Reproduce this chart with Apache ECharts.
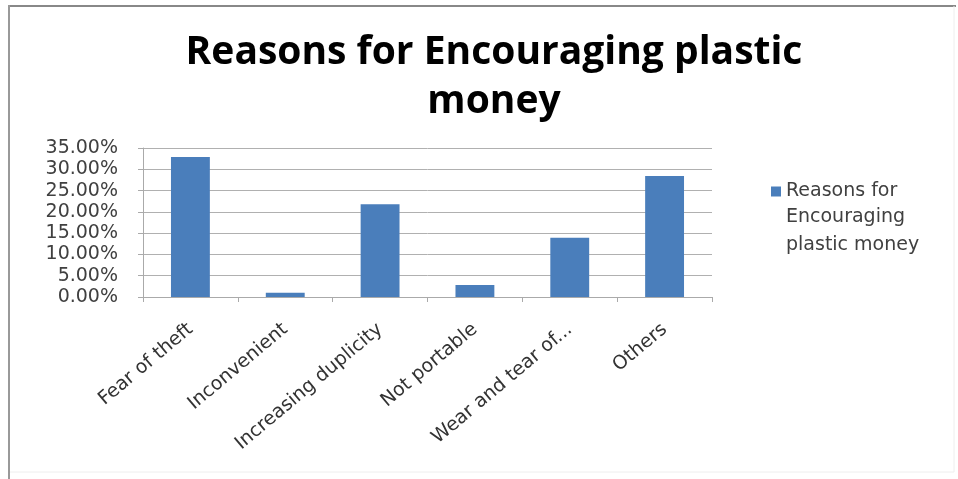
<!DOCTYPE html>
<html><head><meta charset="utf-8">
<script src="https://cdn.jsdelivr.net/npm/echarts@6/dist/echarts.min.js"></script>
<style>html,body{margin:0;padding:0;background:#fff}#c{width:958px;height:479px}</style>
</head><body><div id="c"></div>
<script>
const categories = ["Fear of theft","Inconvenient","Increasing duplicity","Not portable","Wear and tear of...","Others"];
const seriesName = "Reasons for Encouraging plastic money";
const values = [0.329, 0.010, 0.218, 0.028, 0.139, 0.284];
const yTicks = [0, 0.05, 0.10, 0.15, 0.20, 0.25, 0.30, 0.35];

const chart = echarts.init(document.getElementById('c'));
const font = '"DejaVu Sans", sans-serif';
chart.setOption({
  animation: false,
  backgroundColor: '#fff',
  graphic: [
    {type: 'line', shape: {x1: 9, y1: 6, x2: 956, y2: 6}, style: {stroke: '#888', lineWidth: 2}},
    {type: 'line', shape: {x1: 9, y1: 5, x2: 9, y2: 479}, style: {stroke: '#999', lineWidth: 2}},
    {type: 'line', shape: {x1: 954, y1: 6, x2: 954, y2: 472}, style: {stroke: '#eee', lineWidth: 1}},
    {type: 'line', shape: {x1: 10, y1: 472, x2: 954, y2: 472}, style: {stroke: '#eee', lineWidth: 1}},
    {type: 'text', left: 786, top: 203,
      style: {text: 'Encouraging\nplastic money', fontFamily: font, fontSize: 19, lineHeight: 28, fill: '#404040'}}
  ],
  title: {
    text: 'Reasons for Encouraging plastic\nmoney',
    left: 489, top: 23, textAlign: 'center',
    textStyle: {fontFamily: '"Open Sans", sans-serif', fontSize: 39, fontWeight: 'bold', color: '#000', lineHeight: 49}
  },
  legend: {
    left: 766, top: 177, orient: 'vertical',
    itemWidth: 10, itemHeight: 10, icon: 'rect',
    formatter: () => 'Reasons for',
    textStyle: {fontFamily: font, fontSize: 19, color: '#404040'},
    data: [seriesName]
  },
  grid: {left: 143, right: 246, top: 148, bottom: 182},
  xAxis: {
    type: 'category', data: categories,
    axisLine: {lineStyle: {color: '#aaa'}},
    axisTick: {show: true, alignWithLabel: false, length: 5, lineStyle: {color: '#aaa'}},
    axisLabel: {rotate: 40, fontFamily: font, fontSize: 19, color: '#333', margin: 30, interval: 0}
  },
  yAxis: {
    type: 'value', min: 0, max: 0.35, interval: 0.05,
    axisLine: {show: true, lineStyle: {color: '#aaa'}},
    axisTick: {show: true, length: 5, lineStyle: {color: '#aaa'}},
    splitLine: {lineStyle: {color: '#b0b0b0'}},
    axisLabel: {fontFamily: font, fontSize: 19, color: '#404040', margin: 25,
      formatter: v => (v*100).toFixed(2) + '%'}
  },
  series: [{
    name: seriesName, type: 'bar', data: values, barWidth: '41%',
    itemStyle: {color: '#4a7ebb'}
  }]
});
</script></body></html>
